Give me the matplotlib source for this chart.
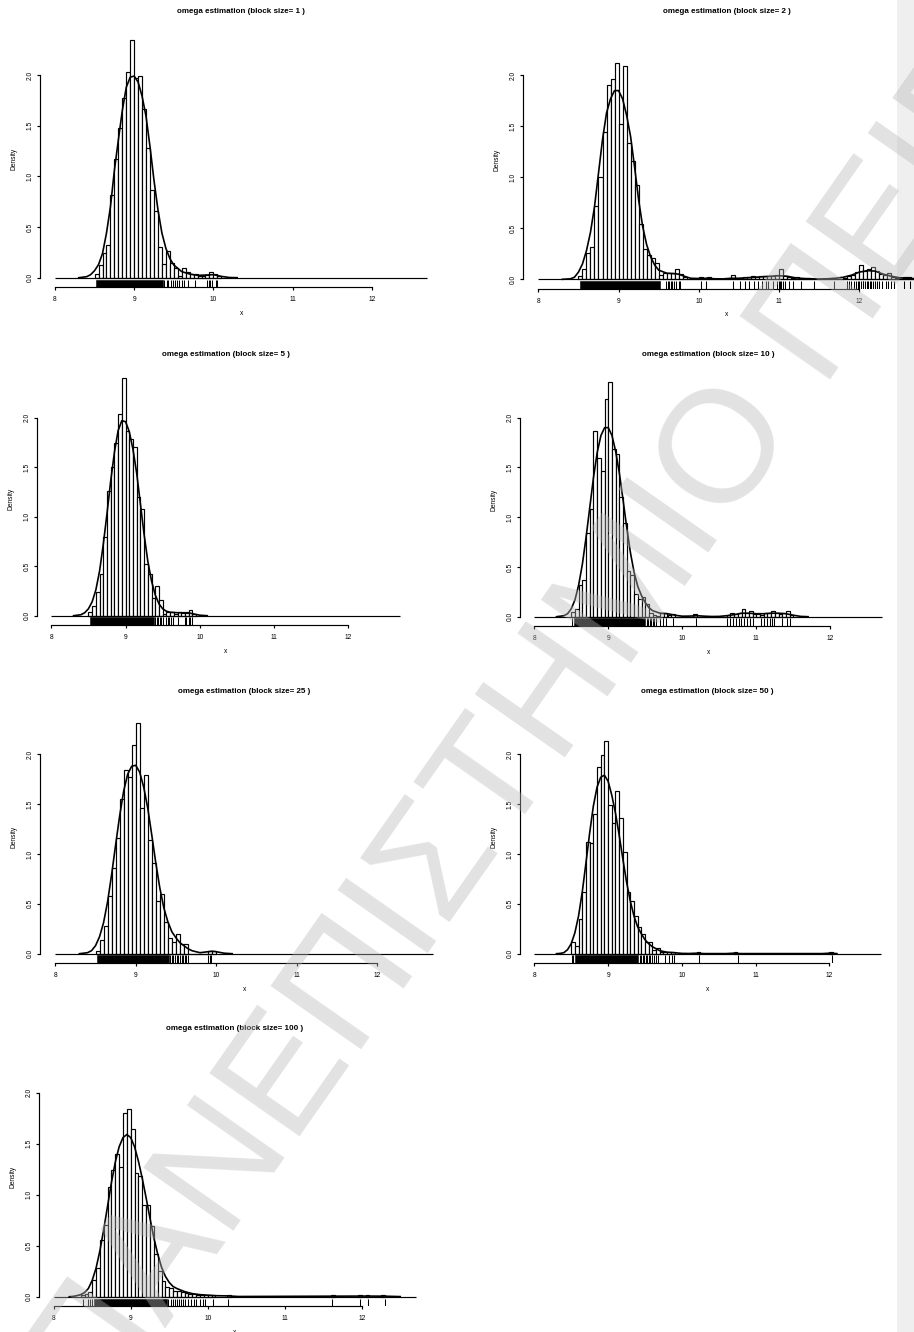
import numpy as np
import matplotlib
matplotlib.use("Agg")
import matplotlib.pyplot as plt
from matplotlib.patches import Rectangle
from matplotlib.transforms import blended_transform_factory

# ---------------- data ----------------
block_sizes = [1, 2, 5, 10, 25, 50, 100]
BIN_W = 0.05
BREAK_LO, BREAK_HI = 8.0, 12.7

# histogram densities: contiguous bins starting at hX_start, plus isolated outlier bins
h1_start = 8.50
h1 = [0.04, 0.125, 0.24, 0.32, 0.82, 1.17, 1.48, 1.77, 2.03, 2.35, 1.97, 1.99, 1.67, 1.28, 0.87, 0.66,
      0.30, 0.14, 0.26, 0.15, 0.10, 0.02, 0.10, 0.06, 0.04, 0.04, 0.015, 0.02, 0.03, 0.06, 0.04, 0.02]
h1_out_x, h1_out = [], []

h2_start = 8.50
h2 = [0.03, 0.10, 0.26, 0.32, 0.72, 1.00, 1.44, 1.90, 1.96, 2.12,
      1.52, 2.09, 1.34, 1.16, 0.92, 0.54, 0.30, 0.24, 0.21, 0.16,
      0.04, 0.06, 0.06, 0.06, 0.10, 0.05, 0.02, 0, 0, 0,
      0.02, 0, 0.02, 0, 0, 0, 0, 0, 0.04, 0.01,
      0.01, 0.02, 0.02, 0.035, 0.02, 0.03, 0.035, 0.035, 0.03, 0.045,
      0.10, 0.03, 0.02, 0.01, 0.02, 0, 0, 0.01, 0, 0,
      0, 0, 0, 0.015, 0, 0, 0.01, 0.03, 0.04, 0.07,
      0.14, 0.08, 0.10, 0.12, 0.08, 0.05, 0.04, 0.06, 0.02, 0.01,
      0, 0.02, 0.02, 0.01]
h2_out_x, h2_out = [], []

h3_start = 8.50
h3 = [0.04, 0.10, 0.24, 0.42, 0.80, 1.26, 1.50, 1.74, 2.04, 2.40, 1.87, 1.78, 1.70, 1.20, 1.08,
      0.52, 0.42, 0.18, 0.30, 0.16, 0.02, 0.04, 0.04, 0.02, 0.035, 0.025, 0.03, 0.055, 0.015]
h3_out_x, h3_out = [], []

h4_start = 8.50
h4 = [0.05, 0.08, 0.32, 0.37, 0.84, 1.08, 1.87, 1.60, 1.46, 2.19,
      2.36, 1.69, 1.64, 1.20, 0.94, 0.46, 0.42, 0.23, 0.18, 0.20,
      0.13, 0.035, 0.015, 0.01, 0.04, 0.04, 0.015, 0.025, 0, 0,
      0, 0, 0, 0.025, 0, 0, 0, 0, 0, 0,
      0, 0, 0.015, 0.04, 0.025, 0.035, 0.08, 0.04, 0.06, 0.03,
      0.025, 0.015, 0.04, 0.04, 0.055, 0.04, 0.025, 0.04, 0.06, 0.015]
h4_out_x, h4_out = [], []

h5_start = 8.50
h5 = [0.03, 0.14, 0.28, 0.58, 0.86, 1.16, 1.55, 1.84, 1.77, 2.09,
      2.31, 1.46, 1.79, 1.14, 0.91, 0.53, 0.60, 0.32, 0.16, 0.12,
      0.20, 0.10, 0.10, 0, 0, 0, 0, 0, 0.025, 0.025]
h5_out_x, h5_out = [], []

h6_start = 8.50
h6 = [0.12, 0.08, 0.35, 0.62, 1.12, 1.11, 1.40, 1.87, 1.99, 2.13, 1.49, 1.31, 1.63, 1.36,
      1.02, 0.62, 0.53, 0.38, 0.27, 0.20, 0.12, 0.12, 0.04, 0.06, 0.02, 0.02, 0.02, 0.02]
h6_out_x = [10.20, 10.70, 12.00]
h6_out = [0.02, 0.02, 0.02]

h7_start = 8.35
h7 = [0.015, 0.03, 0.045, 0.16, 0.28, 0.56, 0.70, 1.08, 1.24, 1.40,
      1.27, 1.80, 1.84, 1.64, 1.21, 1.18, 0.90, 0.90, 0.69, 0.42,
      0.25, 0.15, 0.10, 0.09, 0.06, 0.06, 0.045, 0.04, 0.025, 0.025,
      0.02, 0.02, 0.015, 0.015, 0.02]
h7_out_x = [10.25, 11.60, 11.95, 12.05, 12.25]
h7_out = [0.02, 0.02, 0.02, 0.02, 0.02]

# kernel density curves (x, density)
d1_x = [8.3, 8.4, 8.45, 8.5, 8.55, 8.6, 8.65, 8.7, 8.75, 8.8, 8.85, 8.9, 8.95, 9.0, 9.05, 9.1, 9.15,
        9.2, 9.25, 9.3, 9.35, 9.4, 9.45, 9.5, 9.6, 9.7, 9.8, 9.9, 10.0, 10.1, 10.2, 10.3]
d1_y = [0.0, 0.01, 0.03, 0.07, 0.13, 0.24, 0.44, 0.70, 1.06, 1.36, 1.65, 1.88, 1.98, 1.99, 1.93, 1.79,
        1.59, 1.29, 0.96, 0.67, 0.44, 0.29, 0.19, 0.125, 0.06, 0.036, 0.023, 0.026, 0.03, 0.013, 0.002, 0.0]

d2_x = [8.3, 8.4, 8.45, 8.5, 8.55, 8.6, 8.65, 8.7, 8.75, 8.8,
        8.85, 8.9, 8.95, 9.0, 9.05, 9.1, 9.15, 9.2, 9.25, 9.3,
        9.35, 9.4, 9.45, 9.5, 9.6, 9.7, 9.75, 9.8, 9.9, 10.0,
        10.1, 10.2, 10.3, 10.4, 10.5, 10.6, 10.7, 10.8, 10.9,
        11.0, 11.1, 11.2, 11.3, 11.4, 11.5, 11.6, 11.7, 11.8, 11.9,
        12.0, 12.1, 12.2, 12.3, 12.4, 12.5, 12.6, 12.7]
d2_y = [0.0, 0.005, 0.02, 0.07, 0.15, 0.28, 0.46, 0.71, 1.04, 1.37,
        1.63, 1.77, 1.85, 1.85, 1.77, 1.61, 1.40, 1.10, 0.78, 0.52,
        0.34, 0.22, 0.14, 0.09, 0.06, 0.055, 0.05, 0.035, 0.01, 0.008,
        0.01, 0.005, 0.004, 0.01, 0.01, 0.015, 0.02, 0.025, 0.03,
        0.035, 0.03, 0.015, 0.008, 0.005, 0.003, 0.005, 0.01, 0.02, 0.04,
        0.07, 0.085, 0.08, 0.05, 0.03, 0.015, 0.01, 0.005]

d3_x = [8.3, 8.4, 8.45, 8.5, 8.55, 8.6, 8.65, 8.7, 8.75, 8.8, 8.85, 8.9, 8.95, 9.0, 9.05, 9.1,
        9.15, 9.2, 9.25, 9.3, 9.35, 9.4, 9.45, 9.5, 9.55, 9.6, 9.7, 9.8, 9.85, 9.9, 10.0, 10.1]
d3_y = [0.0, 0.01, 0.03, 0.07, 0.14, 0.26, 0.45, 0.72, 1.03, 1.36, 1.65, 1.87, 1.97, 1.96, 1.86, 1.68,
        1.44, 1.13, 0.82, 0.55, 0.35, 0.21, 0.12, 0.07, 0.045, 0.035, 0.03, 0.03, 0.03, 0.02, 0.005, 0.0]

d4_x = [8.3, 8.4, 8.45, 8.5, 8.55, 8.6, 8.65, 8.7, 8.75, 8.8,
        8.85, 8.9, 8.95, 9.0, 9.05, 9.1, 9.15, 9.2, 9.25, 9.3,
        9.35, 9.4, 9.45, 9.5, 9.55, 9.6, 9.7, 9.8, 9.9, 10.0,
        10.1, 10.2, 10.3, 10.4, 10.5, 10.6, 10.7, 10.8, 10.9, 11.0,
        11.1, 11.2, 11.3, 11.4, 11.5, 11.6, 11.7]
d4_y = [0.0, 0.01, 0.03, 0.08, 0.17, 0.32, 0.53, 0.80, 1.10, 1.40,
        1.65, 1.82, 1.90, 1.90, 1.82, 1.66, 1.44, 1.17, 0.89, 0.64,
        0.44, 0.30, 0.21, 0.14, 0.09, 0.06, 0.035, 0.03, 0.015, 0.005,
        0.006, 0.01, 0.005, 0.002, 0.003, 0.01, 0.02, 0.035, 0.035, 0.03,
        0.03, 0.035, 0.035, 0.03, 0.015, 0.003, 0.0]

d5_x = [8.3, 8.4, 8.45, 8.5, 8.55, 8.6, 8.65, 8.7, 8.75, 8.8,
        8.85, 8.9, 8.95, 9.0, 9.05, 9.1, 9.15, 9.2, 9.25, 9.3,
        9.35, 9.4, 9.45, 9.5, 9.55, 9.6, 9.65, 9.7, 9.8, 9.9,
        9.95, 10.0, 10.1, 10.2]
d5_y = [0.0, 0.01, 0.03, 0.08, 0.17, 0.31, 0.52, 0.79, 1.09, 1.38,
        1.63, 1.80, 1.88, 1.89, 1.82, 1.67, 1.46, 1.19, 0.91, 0.66,
        0.46, 0.32, 0.22, 0.16, 0.11, 0.08, 0.05, 0.03, 0.01, 0.02,
        0.025, 0.02, 0.005, 0.0]

d6_x = [8.3, 8.35, 8.4, 8.45, 8.5, 8.55, 8.6, 8.65, 8.7, 8.75,
        8.8, 8.85, 8.9, 8.95, 9.0, 9.05, 9.1, 9.15, 9.2, 9.25,
        9.3, 9.35, 9.4, 9.45, 9.5, 9.55, 9.6, 9.65, 9.7, 9.8,
        9.9, 10.0, 10.1, 10.2, 10.3, 10.6, 10.7, 10.8, 11.9, 12.0, 12.1]
d6_y = [0.0, 0.003, 0.01, 0.04, 0.10, 0.21, 0.38, 0.62, 0.91, 1.21,
        1.48, 1.67, 1.77, 1.79, 1.73, 1.59, 1.41, 1.19, 0.95, 0.72,
        0.53, 0.38, 0.27, 0.20, 0.14, 0.10, 0.07, 0.05, 0.03, 0.015,
        0.01, 0.003, 0.002, 0.005, 0.001, 0.001, 0.005, 0.001, 0.001, 0.005, 0.001]

d7_x = [8.2, 8.25, 8.3, 8.35, 8.4, 8.45, 8.5, 8.55, 8.6, 8.65,
        8.7, 8.75, 8.8, 8.85, 8.9, 8.95, 9.0, 9.05, 9.1, 9.15,
        9.2, 9.25, 9.3, 9.35, 9.4, 9.45, 9.5, 9.55, 9.6, 9.7,
        9.8, 9.9, 10.0, 10.1, 10.25, 10.4, 11.6, 12.0, 12.1, 12.3, 12.5]
d7_y = [0.0, 0.003, 0.01, 0.02, 0.04, 0.08, 0.16, 0.28, 0.45, 0.66,
        0.89, 1.12, 1.32, 1.47, 1.56, 1.59, 1.56, 1.47, 1.33, 1.16,
        0.97, 0.77, 0.58, 0.42, 0.29, 0.20, 0.14, 0.10, 0.08, 0.05,
        0.03, 0.02, 0.015, 0.01, 0.008, 0.002, 0.005, 0.006, 0.006, 0.005, 0.001]

# rug marks: solid (very dense) stretches and individual ticks
r1_band = [(8.52, 9.36)]
r1_ticks = [9.38, 9.41, 9.43, 9.46, 9.49, 9.52, 9.54, 9.57, 9.60, 9.63, 9.68, 9.77,
            9.92, 9.94, 9.96, 9.98, 10.03, 10.05]
r2_band = [(8.52, 9.52)]
r2_ticks = [9.59, 9.61, 9.63, 9.65, 9.67, 9.69, 9.72, 9.75, 9.77, 10.03, 10.09, 10.43, 10.51,
            10.57, 10.63, 10.69, 10.74, 10.79, 10.84, 10.86, 10.93, 10.98, 11.0, 11.01, 11.03,
            11.05, 11.07, 11.13, 11.18, 11.27, 11.43, 11.69, 11.85, 11.87, 11.9, 11.94, 11.96,
            11.98, 12.0, 12.02, 12.04, 12.05, 12.07, 12.09, 12.11, 12.13, 12.15, 12.17, 12.19,
            12.22, 12.25, 12.28, 12.33, 12.36, 12.39, 12.43, 12.56, 12.63]
r3_band = [(8.52, 9.38)]
r3_ticks = [9.40, 9.42, 9.44, 9.46, 9.48, 9.51, 9.54, 9.57, 9.58, 9.61, 9.64, 9.70,
            9.80, 9.82, 9.85, 9.87, 9.89]
r4_band = [(8.53, 9.50)]
r4_ticks = [8.51, 9.52, 9.54, 9.56, 9.58, 9.60, 9.62, 9.65, 9.70, 9.74, 9.78, 9.88, 10.19,
            10.60, 10.64, 10.68, 10.72, 10.77, 10.79, 10.84, 10.87, 10.92, 10.96, 11.06, 11.10,
            11.14, 11.18, 11.21, 11.24, 11.35, 11.41, 11.45]
r5_band = [(8.52, 9.41)]
r5_ticks = [9.43, 9.45, 9.47, 9.49, 9.51, 9.53, 9.55, 9.57, 9.59, 9.61, 9.63, 9.65,
            9.90, 9.92, 9.94]
r6_band = [(8.55, 9.41)]
r6_ticks = [8.51, 8.53, 9.43, 9.45, 9.47, 9.49, 9.51, 9.53, 9.55, 9.57, 9.59, 9.62, 9.65,
            9.68, 9.77, 9.83, 9.86, 9.89, 10.23, 10.76, 12.03]
r7_band = [(8.52, 9.47)]
r7_ticks = [8.38, 8.45, 8.47, 8.50, 9.49, 9.52, 9.55, 9.58, 9.60, 9.63, 9.65, 9.68, 9.70,
            9.74, 9.78, 9.82, 9.85, 9.90, 9.94, 9.97, 10.07, 10.26, 11.62, 11.98, 12.08, 12.30]

x_ticks = [8, 9, 10, 11, 12]
x_tick_labels = ["8", "9", "10", "11", "12"]
y_ticks = [0.0, 0.5, 1.0, 1.5, 2.0]
y_tick_labels = ["0.0", "0.5", "1.0", "1.5", "2.0"]

panels = [
    (h1_start, h1, h1_out_x, h1_out, d1_x, d1_y, r1_band, r1_ticks),
    (h2_start, h2, h2_out_x, h2_out, d2_x, d2_y, r2_band, r2_ticks),
    (h3_start, h3, h3_out_x, h3_out, d3_x, d3_y, r3_band, r3_ticks),
    (h4_start, h4, h4_out_x, h4_out, d4_x, d4_y, r4_band, r4_ticks),
    (h5_start, h5, h5_out_x, h5_out, d5_x, d5_y, r5_band, r5_ticks),
    (h6_start, h6, h6_out_x, h6_out, d6_x, d6_y, r6_band, r6_ticks),
    (h7_start, h7, h7_out_x, h7_out, d7_x, d7_y, r7_band, r7_ticks),
]

# ---------------- layout (pixel calibration of each panel) ----------------
W, H, DPI = 914, 1332, 100
# (pixel of x=8, px per x unit, pixel row of y=0, px per y unit)
panel_px = [
    (55.0, 79.2, 277.7, 101.3),
    (538.3, 80.25, 279.3, 102.0),
    (51.3, 74.25, 615.7, 99.0),
    (534.3, 74.0, 616.7, 99.5),
    (55.3, 80.4, 953.7, 99.7),
    (534.3, 73.8, 953.7, 99.7),
    (53.7, 77.0, 1296.7, 102.0),
]
XLO, XHI = 7.812, 12.888
YLO, YHI = -0.094, 2.444

plt.rcParams['font.family'] = ['Liberation Sans', 'DejaVu Sans']
fig = plt.figure(figsize=(W / DPI, H / DPI), dpi=DPI)
fig.patch.set_facecolor('white')

# light grey margin strip on the right
fig.patches.append(Rectangle((897 / W, 0), (W - 897) / W, 1, transform=fig.transFigure,
                             facecolor='#efefef', edgecolor='none', zorder=-5))

LW = 0.85
for i, (bs, pdata, px) in enumerate(zip(block_sizes, panels, panel_px)):
    h_start, h, ox, oh, dx, dy, bands, rticks = pdata
    x8, sx, y0, sy = px
    left = x8 - (8 - XLO) * sx
    right = x8 + (XHI - 8) * sx
    bot = y0 - YLO * sy
    top = y0 - YHI * sy
    ax = fig.add_axes([left / W, (H - bot) / H, (right - left) / W, (bot - top) / H])
    ax.patch.set_visible(False)
    ax.set_xlim(XLO, XHI)
    ax.set_ylim(YLO, YHI)

    # histogram: every break from 8.0 to 12.7 (zero bars appear as a flat line)
    ax.hlines(0, BREAK_LO, BREAK_HI, color='black', lw=LW)
    lefts = [h_start + k * BIN_W for k in range(len(h))]
    ax.bar(lefts, h, width=BIN_W, align='edge', facecolor='white', edgecolor='black', linewidth=LW)
    if ox:
        ax.bar(ox, oh, width=BIN_W, align='edge', facecolor='white', edgecolor='black', linewidth=LW)

    # density curve
    ax.plot(dx, dy, color='black', lw=1.2, solid_joinstyle='round')

    # rug
    tr = blended_transform_factory(ax.transData, ax.transAxes)
    for a, b in bands:
        ax.add_patch(Rectangle((a, 0), b - a, 0.03, transform=tr, facecolor='black',
                               edgecolor='black', lw=0.4))
    ax.vlines(rticks, 0, 0.03, transform=tr, color='black', lw=0.75)

    # R-style axes
    for s in ['top', 'right']:
        ax.spines[s].set_visible(False)
    ax.spines['left'].set_bounds(0, 2.0)
    ax.spines['bottom'].set_bounds(8, 12)
    ax.spines['left'].set_linewidth(LW)
    ax.spines['bottom'].set_linewidth(LW)
    ax.set_xticks(x_ticks)
    ax.set_xticklabels(x_tick_labels)
    ax.set_yticks(y_ticks)
    ax.set_yticklabels(y_tick_labels, rotation=90, va='center')
    ax.tick_params(axis='both', length=2.3, width=LW, labelsize=4.8, direction='out')
    ax.tick_params(axis='x', pad=4.0)
    ax.tick_params(axis='y', pad=2.5)

    # title and axis labels
    cx = (left + right) / 2
    cy = (top + bot) / 2
    fig.text(cx / W, (H - (top - 19)) / H, f"omega estimation (block size= {bs} )",
             ha='center', va='center', fontsize=5.8, fontweight='bold')
    fig.text(cx / W, (H - (bot + 26)) / H, "x", ha='center', va='center', fontsize=4.8)
    fig.text((left - 26) / W, (H - cy) / H, "Density", ha='center', va='center',
             rotation=90, fontsize=4.8)

# watermark (semi-transparent, on top)
fig.text(99 / W, (H - 1423) / H, "ΠΑΝΕΠΙΣΤΗΜΙΟ ΠΕΙΡΑΙΩΣ", rotation=55, rotation_mode='anchor',
         ha='left', va='baseline', fontsize=115, color='#b8b8b8', alpha=0.40, zorder=20,
         family=['Liberation Sans', 'DejaVu Sans'])

fig.savefig("out.png", dpi=DPI, facecolor='white')
